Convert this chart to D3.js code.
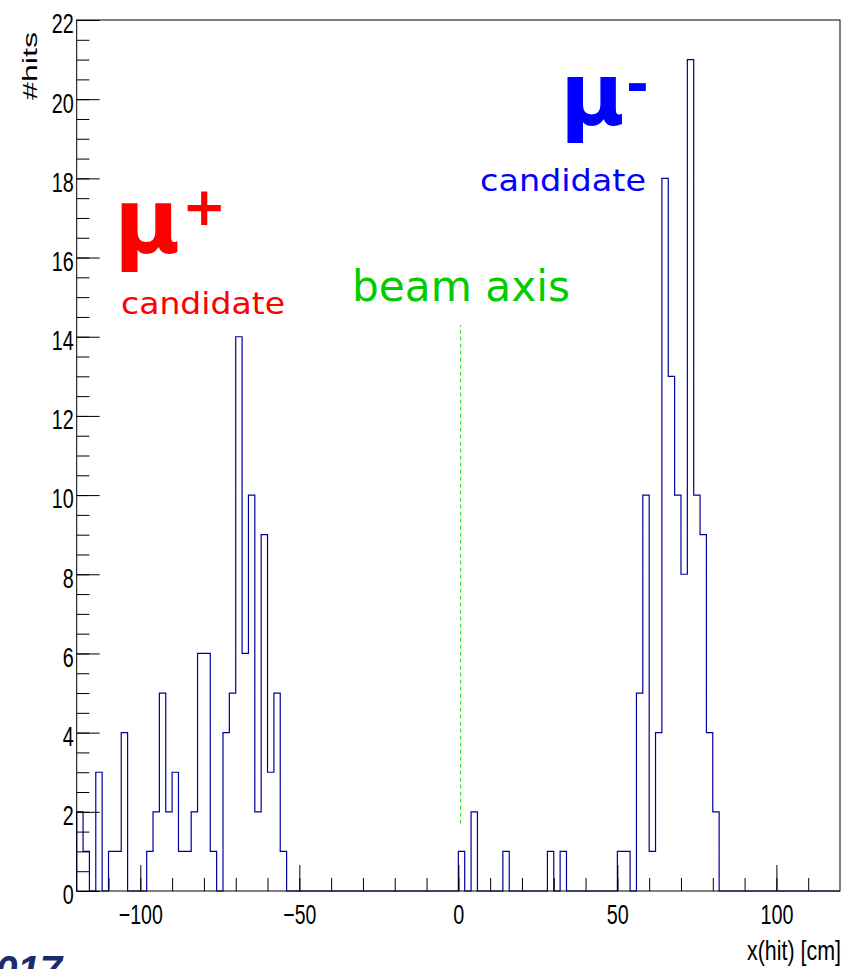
<!DOCTYPE html>
<html>
<head>
<meta charset="utf-8">
<script src="https://cdn.jsdelivr.net/npm/d3@7/dist/d3.min.js"></script>
<style>
  body { margin: 0; background: #fff; }
  svg { display: block; }
</style>
</head>
<body>
<div id="graphic"></div>
<script>
// 2 cm bins, lower edge of every non-empty bin and its number of hits
var binLow = [-120, -118, -114, -110, -108, -106, -98, -96, -94, -92, -90, -88, -86, -84, -82, -80, -78,
  -74, -72, -70, -68, -66, -64, -62, -60, -58, -56,
  0, 4, 14, 28, 32,
  50, 52, 56, 58, 60, 62, 64, 66, 68, 70, 72, 74, 76, 78, 80]
var hits = [2, 1, 3, 1, 1, 4, 1, 2, 5, 2, 3, 1, 1, 2, 6, 6, 1,
  4, 5, 14, 6, 10, 2, 9, 3, 5, 1,
  1, 2, 1, 1, 1,
  1, 1, 5, 10, 1, 4, 18, 13, 10, 8, 21, 10, 9, 4, 2]
var binWidth = 2
var xDomain = [-120, 120]
var yDomain = [0, 22]

var xMajor = [-100, -50, 0, 50, 100]
var yMajor = d3.range(0, 23, 2)

// dashed marker for the beam axis, in plot units
var beamLine = {x: 0.7, y1: 1.7, y2: 14.3}

var width = 848
var height = 969

var svg = d3.select('#graphic')
  .html('')
  .append('svg')
  .attr('width', width)
  .attr('height', height)

var x = d3.scaleLinear().domain(xDomain).range([76.7, 840])
var y = d3.scaleLinear().domain(yDomain).range([891, 20])

// full list of bins
var counts = d3.range(xDomain[0], xDomain[1], binWidth).map(lo => {
  var i = binLow.indexOf(lo)
  return {lo: lo, n: i < 0 ? 0 : hits[i]}
})

var pts = [[xDomain[0], 0]]
counts.forEach(d => {
  pts.push([d.lo, d.n])
  pts.push([d.lo + binWidth, d.n])
})
pts.push([xDomain[1], 0])

var line = d3.line().x(d => x(d[0])).y(d => y(d[1]))

svg.append('path')
  .attr('d', line(pts))
  .attr('fill', 'none')
  .attr('stroke', '#00009c')
  .attr('stroke-width', 1.2)

// ticks, ROOT style (pointing inside)
var bottom = svg.append('g').attr('transform', 'translate(0,891)')
bottom.append('g')
  .call(d3.axisBottom(x).tickValues(d3.range(-110, 111, 10)).tickSize(-13).tickFormat('').tickSizeOuter(0))
bottom.append('g')
  .call(d3.axisBottom(x).tickValues(xMajor).tickSize(-26).tickPadding(13).tickSizeOuter(0))

var left = svg.append('g').attr('transform', 'translate(76.7,0)')
left.append('g')
  .call(d3.axisLeft(y).tickValues(d3.range(0, 22.01, 0.5)).tickSize(-12.7).tickFormat('').tickSizeOuter(0))
left.append('g')
  .call(d3.axisLeft(y).tickValues(yMajor).tickSize(-23).tickPadding(3).tickSizeOuter(0))

svg.selectAll('.domain').remove()
svg.selectAll('.tick line').attr('stroke', '#000')

svg.selectAll('.tick text')
  .attr('font-family', '"Liberation Sans", Arial, sans-serif')
  .attr('font-size', 28)
  .attr('fill', '#000')
  .attr('lengthAdjust', 'spacingAndGlyphs')
  .attr('textLength', function() { return this.textContent.length * 11 })
left.selectAll('.tick text').attr('dy', '0.46em')

// frame
svg.append('rect')
  .attr('x', x(xDomain[0]))
  .attr('y', y(yDomain[1]))
  .attr('width', x(xDomain[1]) - x(xDomain[0]))
  .attr('height', y(yDomain[0]) - y(yDomain[1]))
  .attr('fill', 'none')
  .attr('stroke', '#000')
  .attr('stroke-width', 1)

// axis titles
svg.append('text')
  .text('x(hit) [cm]')
  .attr('x', 841)
  .attr('y', 960)
  .attr('text-anchor', 'end')
  .attr('font-family', '"Liberation Sans", Arial, sans-serif')
  .attr('font-size', 28)
  .attr('lengthAdjust', 'spacingAndGlyphs')
  .attr('textLength', 94)

svg.append('text')
  .text('#hits')
  .attr('transform', 'translate(37,32) rotate(-90)')
  .attr('text-anchor', 'end')
  .attr('font-family', '"Liberation Sans", Arial, sans-serif')
  .attr('font-size', 21)
  .attr('lengthAdjust', 'spacingAndGlyphs')
  .attr('textLength', 68)

// beam axis marker
svg.append('line')
  .attr('x1', x(beamLine.x)).attr('x2', x(beamLine.x))
  .attr('y1', y(beamLine.y1)).attr('y2', y(beamLine.y2))
  .attr('stroke', '#22dd22')
  .attr('stroke-dasharray', '4,3')

var font = '"DejaVu Sans", Verdana, sans-serif'

function label(txt, px, py, size, color, weight, len) {
  var t = svg.append('text')
    .text(txt)
    .attr('x', px)
    .attr('y', py)
    .attr('font-family', font)
    .attr('font-size', size)
    .attr('font-weight', weight)
    .attr('fill', color)
  if (len) t.attr('lengthAdjust', 'spacingAndGlyphs').attr('textLength', len)
  return t
}

label('beam axis', 352, 301, 42, '#00cc00', 'normal', 218)

label('μ', 114, 253, 90, '#ff0000', 'bold')
label('+', 182, 225, 53, '#ff0000', 'bold')
label('candidate', 121, 314, 31, '#ff0000', 'normal', 164)

label('μ', 560, 125, 88, '#0000ff', 'bold')
label('-', 626, 103, 55, '#0000ff', 'bold')
label('candidate', 480, 191, 31, '#0000ff', 'normal', 166)

// clipped year mark at the bottom edge
label('2017', -27, 984, 40, '#1c2a6e', 'bold')
  .attr('font-style', 'italic')
  .attr('font-family', '"Liberation Sans", Arial, sans-serif')
</script>
</body>
</html>
